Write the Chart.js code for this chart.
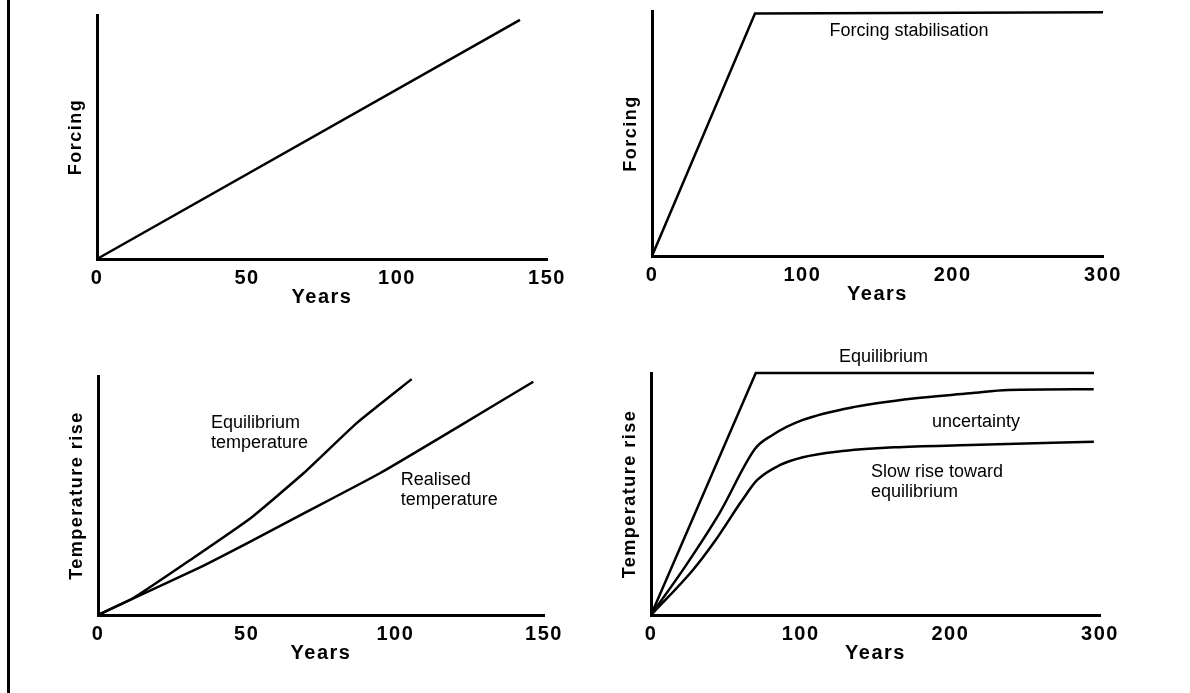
<!DOCTYPE html>
<html>
<head>
<meta charset="utf-8">
<script src="https://cdn.jsdelivr.net/npm/chart.js@4.4.0/dist/chart.umd.min.js"></script>
<style>
  html, body { margin: 0; padding: 0; background: #fff; }
  #page { position: relative; width: 1190px; height: 693px; overflow: hidden; background: #fff; }
  #page canvas { position: absolute; }
  #rule { position: absolute; left: 7px; top: 0; width: 3px; height: 693px; background: #000; }
</style>
</head>
<body>
<div id="page">
  <div id="rule"></div>
  <canvas id="c1"></canvas>
  <canvas id="c2"></canvas>
  <canvas id="c3"></canvas>
  <canvas id="c4"></canvas>
</div>
<script>
// tick labels on the year axes
const ticksShort = [0, 50, 100, 150];
const ticksLong = [0, 100, 200, 300];

// top left: forcing rises steadily
const years1 = [0, 141];
const forcing1 = [0, 98];

// top right: forcing rises then is stabilised
const years2 = [0, 68.5, 300];
const forcing2 = [0, 99, 99.5];

// bottom left: equilibrium vs realised temperature
const years3Eq = [0, 11.9, 31, 51.4, 69.2, 87, 105.5];
const temp3Eq = [0, 7.1, 23, 40.6, 59.4, 80.3, 98.7];
const years3Real = [0, 11.9, 33.6, 50.1, 69.2, 94.8, 120.3, 146.4];
const temp3Real = [0, 7, 19.5, 30, 42.5, 59.3, 78.1, 97.6];

// bottom right: equilibrium and the slow rise towards it (uncertainty band)
const years4Eq = [0, 70, 296];
const temp4Eq = [0, 100, 100];
const years4Upper = [0, 22.8, 45.7, 69.8, 81.2, 101.5, 137.1, 175.2, 213.2, 238.6, 295.8];
const temp4Upper = [0, 20, 42, 68.9, 74.4, 80.6, 86.1, 89.5, 91.6, 93, 93.3];
const years4Lower = [0, 28, 43.2, 61, 71, 86.3, 101.5, 124.3, 162.5, 213.3, 295.9];
const temp4Lower = [0, 18.6, 31, 47.5, 55.8, 62, 65.2, 67.5, 69.3, 70.2, 71.6];

const FONT = '"Liberation Sans", Arial, Helvetica, sans-serif';
const Y_BOX = 32;   // width kept for the y axis (title only)
const X_BOX = 50;   // height kept for the x axis (ticks + title)

function pts(xs, ys) {
  return xs.map((x, i) => ({ x: x, y: ys[i] }));
}

function line(xs, ys, mode) {
  return {
    data: pts(xs, ys),
    borderColor: '#000',
    borderWidth: 2.5,
    pointRadius: 0,
    fill: false,
    clip: false,
    tension: mode === 'soft' ? 0.15 : 0,
    cubicInterpolationMode: mode === 'smooth' ? 'monotone' : 'default'
  };
}

// letter spaced text like the original print
const spacing = {
  id: 'spacing',
  beforeDraw(chart) { chart.ctx.letterSpacing = '1.5px'; }
};

// labels written inside the plots, placed in data units
function notes(items) {
  return {
    id: 'notes',
    afterDatasetsDraw(chart) {
      const ctx = chart.ctx;
      const sx = chart.scales.x, sy = chart.scales.y;
      ctx.save();
      ctx.letterSpacing = '0px';
      ctx.font = '18px ' + FONT;
      ctx.fillStyle = '#000';
      ctx.textAlign = 'left';
      ctx.textBaseline = 'middle';
      items.forEach(n => {
        const px = sx.getPixelForValue(n.x);
        const py = sy.getPixelForValue(n.y);
        n.text.forEach((t, i) => ctx.fillText(t, px, py + i * 20));
      });
      ctx.restore();
    }
  };
}

function panel(id, box, area, xMax, xTicks, yTitle, datasets, labels) {
  const cv = document.getElementById(id);
  cv.width = box.width;
  cv.height = box.height;
  cv.style.left = box.left + 'px';
  cv.style.top = box.top + 'px';

  new Chart(cv, {
    type: 'line',
    data: { datasets: datasets },
    options: {
      responsive: false,
      animation: false,
      devicePixelRatio: 1,
      layout: {
        padding: {
          left: area.left - box.left - Y_BOX,
          top: area.top - box.top,
          right: box.left + box.width - area.right,
          bottom: box.top + box.height - area.bottom - X_BOX
        }
      },
      plugins: { legend: { display: false }, tooltip: { enabled: false } },
      scales: {
        x: {
          type: 'linear',
          min: 0,
          max: xMax,
          grid: { display: false, drawTicks: false },
          border: { display: true, color: '#000', width: 3 },
          ticks: {
            color: '#000',
            padding: 7,
            maxRotation: 0,
            autoSkip: false,
            font: { family: FONT, size: 20, weight: 'bold' }
          },
          title: {
            display: true,
            text: 'Years',
            color: '#000',
            padding: 0,
            font: { family: FONT, size: 20, weight: 'bold' }
          },
          afterBuildTicks: s => { s.ticks = xTicks.map(v => ({ value: v })); },
          afterFit: s => { s.height = X_BOX; }
        },
        y: {
          type: 'linear',
          min: 0,
          max: 100,
          grid: { display: false, drawTicks: false },
          border: { display: true, color: '#000', width: 3 },
          ticks: { display: false },
          title: {
            display: true,
            text: yTitle,
            color: '#000',
            padding: 0,
            font: { family: FONT, size: 18, weight: 'bold' }
          },
          afterFit: s => { s.width = Y_BOX; }
        }
      }
    },
    plugins: [spacing, notes(labels)]
  });
}

panel('c1',
  { left: 20, top: 0, width: 580, height: 340 },
  { left: 97, top: 15, right: 547, bottom: 259 },
  150, ticksShort, 'Forcing',
  [line(years1, forcing1)],
  []);

panel('c2',
  { left: 600, top: 0, width: 590, height: 340 },
  { left: 652, top: 11, right: 1103, bottom: 256 },
  300, ticksLong, 'Forcing',
  [line(years2, forcing2)],
  [{ x: 118, y: 92, text: ['Forcing stabilisation'] }]);

panel('c3',
  { left: 20, top: 340, width: 580, height: 353 },
  { left: 98, top: 376, right: 544, bottom: 615 },
  150, ticksShort, 'Temperature rise',
  [line(years3Eq, temp3Eq, 'soft'), line(years3Real, temp3Real, 'soft')],
  [
    { x: 38, y: 80.3, text: ['Equilibrium', 'temperature'] },
    { x: 101.8, y: 56.5, text: ['Realised', 'temperature'] }
  ]);

panel('c4',
  { left: 600, top: 340, width: 590, height: 353 },
  { left: 651, top: 373, right: 1100, bottom: 615 },
  300, ticksLong, 'Temperature rise',
  [line(years4Eq, temp4Eq), line(years4Upper, temp4Upper, 'smooth'), line(years4Lower, temp4Lower, 'smooth')],
  [
    { x: 125.6, y: 106.6, text: ['Equilibrium'] },
    { x: 187.7, y: 79.8, text: ['uncertainty'] },
    { x: 147, y: 59.1, text: ['Slow rise toward', 'equilibrium'] }
  ]);
</script>
</body>
</html>
